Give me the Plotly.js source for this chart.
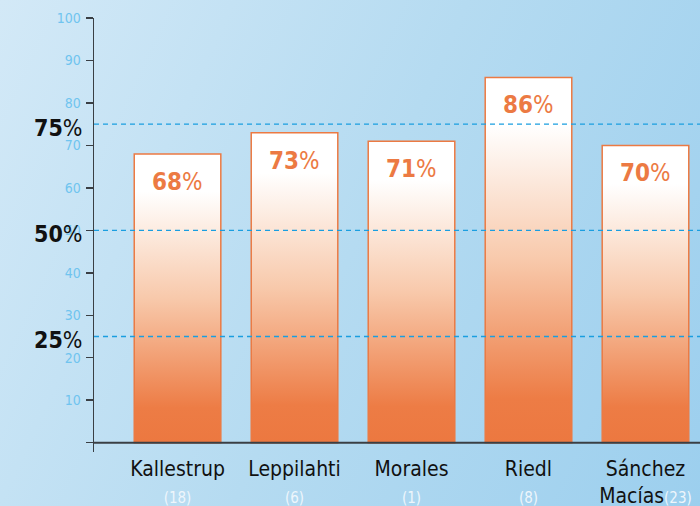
<!DOCTYPE html>
<html>
<head>
<meta charset="utf-8">
<script src="https://cdn.plot.ly/plotly-3.0.1.min.js"></script>
<style>
html,body{margin:0;padding:0;}
body{width:700px;height:506px;overflow:hidden;background:linear-gradient(115deg,#d3e9f7 0%,#b5dbf1 50%,#9ccfee 100%);}
#chart{width:700px;height:506px;}
</style>
</head>
<body>
<div id="chart"></div>
<script>
// ---- data ----
const names = ['Kallestrup', 'Leppilahti', 'Morales', 'Riedl', 'Sánchez Macías'];
const nameLines = ['Kallestrup', 'Leppilahti', 'Morales', 'Riedl', 'Sánchez<br>Macías'];
const counts = [18, 6, 1, 8, 23];
const values = [68, 73, 71, 86, 70];
const yTickVals = [0, 10, 20, 30, 40, 50, 60, 70, 80, 90, 100];
const yTickText = ['', '10', '20', '30', '40', '50', '60', '70', '80', '90', '100'];
const refLevels = [25, 50, 75];
const refLabels = ['25', '50', '75'];

const FONT = '"DejaVu Sans Condensed", "Roboto", sans-serif';
const ORANGE = '#ec7a43';

const tickText = names.map((n, i) => {
  const cnt = `<span style="font-size:15px;color:#eef6fc">(${counts[i]})</span>`;
  return nameLines[i].includes('<br>') ? `${nameLines[i]}${cnt}` : `${nameLines[i]}<br>${cnt}`;
});

const trace = {
  type: 'bar',
  x: names,
  y: values,
  width: 0.74,
  marker: { color: ORANGE, line: { color: ORANGE, width: 1.5 } },
  hoverinfo: 'skip'
};

const shapes = [
  { type: 'line', xref: 'paper', x0: 0, x1: 1, yref: 'y', y0: 0, y1: 0,
    line: { color: '#3a3f44', width: 2 }, layer: 'above' }
].concat(refLevels.map(v => ({
  type: 'line', xref: 'paper', x0: 0, x1: 1, yref: 'y', y0: v, y1: v,
  line: { color: '#1a9ee0', width: 1.3, dash: '5px,4px' }, layer: 'above'
})));

const annotations = values.map((v, i) => ({
  x: names[i], y: v, xref: 'x', yref: 'y', yshift: -28,
  text: `<b>${v}</b>%`, showarrow: false,
  font: { family: FONT, size: 24, color: ORANGE }
})).concat(refLevels.map((v, i) => ({
  x: 0, xref: 'paper', y: v, yref: 'y', xanchor: 'right', xshift: -10, yshift: -4,
  text: `<b>${refLabels[i]}</b>%`, showarrow: false,
  font: { family: FONT, size: 23, color: '#111' }
})));

const layout = {
  width: 700, height: 506,
  margin: { l: 94, r: 0, t: 18, b: 54 },
  paper_bgcolor: 'rgba(0,0,0,0)',
  plot_bgcolor: 'rgba(0,0,0,0)',
  showlegend: false,
  font: { family: FONT },
  xaxis: {
    type: 'category',
    range: [-0.714, 4.466],
    tickvals: names, ticktext: tickText,
    ticks: '', showline: false, showgrid: false, zeroline: false,
    ticklabelstandoff: 2,
    tickfont: { family: FONT, size: 21, color: '#111' },
    fixedrange: true
  },
  yaxis: {
    range: [-2.2, 100],
    tickvals: yTickVals, ticktext: yTickText,
    ticks: 'outside', ticklen: 7, tickwidth: 1.5, tickcolor: '#3a3f44',
    showline: true, linecolor: '#3a3f44', linewidth: 1.5,
    showgrid: false, zeroline: false,
    ticklabelstandoff: 2,
    tickfont: { family: FONT, size: 14, color: '#70c4ef' },
    fixedrange: true
  },
  shapes: shapes,
  annotations: annotations
};

Plotly.newPlot('chart', [trace], layout, { staticPlot: true, displayModeBar: false }).then(gd => {
  const svg = gd.querySelector('svg.main-svg');
  const ns = 'http://www.w3.org/2000/svg';
  let defs = svg.querySelector('defs');
  if (!defs) { defs = document.createElementNS(ns, 'defs'); svg.insertBefore(defs, svg.firstChild); }
  const g = document.createElementNS(ns, 'linearGradient');
  g.setAttribute('id', 'barGrad');
  g.setAttribute('x1', '0'); g.setAttribute('y1', '0');
  g.setAttribute('x2', '0'); g.setAttribute('y2', '1');
  [['0', '#ffffff'], ['0.13', '#ffffff'], ['0.5', '#f8c9ab'], ['0.88', '#ed7c45'], ['1', '#ec7840']].forEach(([o, c]) => {
    const s = document.createElementNS(ns, 'stop');
    s.setAttribute('offset', o); s.setAttribute('stop-color', c);
    g.appendChild(s);
  });
  defs.appendChild(g);
  gd.querySelectorAll('.trace.bars .point path').forEach(p => {
    p.style.fill = 'url(#barGrad)';
  });
});
</script>
</body>
</html>
